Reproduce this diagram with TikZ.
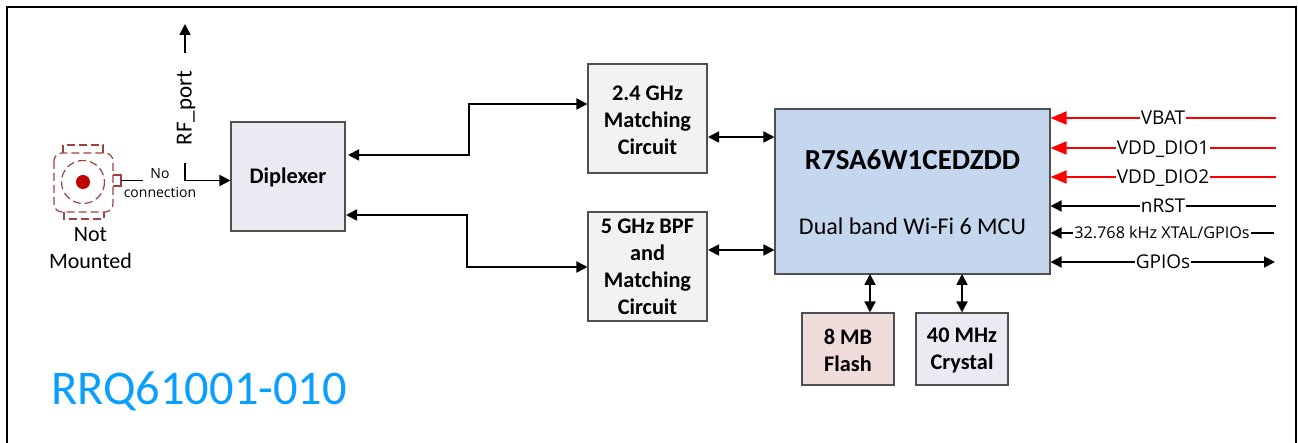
\documentclass[tikz,border=0pt]{standalone}
\usepackage{fontspec}
\setmainfont{Carlito}
\newfontfamily\labfont{Open Sans}
\usetikzlibrary{arrows.meta}
\definecolor{bordergray}{HTML}{505050}
\definecolor{mcublue}{HTML}{C5D7EE}
\definecolor{lilacfill}{HTML}{EBE9F1}
\definecolor{grayfill}{HTML}{F2F2F2}
\definecolor{pinkfill}{HTML}{F0DCDA}
\definecolor{titleblue}{HTML}{0A9FFF}
\definecolor{dashred}{HTML}{A04040}
\definecolor{dotred}{HTML}{C00000}
\definecolor{railred}{HTML}{FF0000}
\newcommand{\firstline}{\rule{0pt}{18pt}}
\tikzset{
  blockbox/.style={draw=bordergray,line width=1.1pt,inner sep=0pt,align=center,
    font=\fontsize{22.3}{27}\selectfont\bfseries},
  conn/.style={line width=1.8pt,black},
  tip/.style={-{Triangle[length=11pt,width=11pt]}},
  tiptwo/.style={{Triangle[length=11pt,width=11pt]}-{Triangle[length=11pt,width=11pt]}},
  redconn/.style={line width=1.8pt,railred},
  lab/.style={fill=white,inner sep=1pt,text height=13.5pt,text depth=0pt,font=\labfont\fontsize{19}{20}\selectfont},
  dashsym/.style={draw=dashred,line width=1.2pt,dash pattern=on 8pt off 4pt},
}
\begin{document}
\begin{tikzpicture}[x=1pt,y=-1pt]
\useasboundingbox (0,0) rectangle (1298,443);
% frame
\draw[line width=2pt,black] (7,443) -- (7,7) -- (1296,7) -- (1296,443);
% blocks
\node[blockbox,fill=lilacfill,minimum width=114pt,minimum height=109pt] (dip) at (288,176.5) {\firstline Diplexer};
\node[blockbox,fill=grayfill,minimum width=119pt,minimum height=109pt] (m24) at (647.5,118.5) {\firstline 2.4 GHz\\Matching\\Circuit};
\node[blockbox,fill=grayfill,minimum width=119pt,minimum height=109pt] (m5) at (647.5,266.5) {5 GHz BPF\\and\\Matching\\Circuit};
\node[blockbox,fill=mcublue,minimum width=275pt,minimum height=165pt] (mcu) at (912.5,191.5) {};
\node[blockbox,fill=pinkfill,minimum width=92pt,minimum height=72pt] (flash) at (848,349) {\firstline 8 MB\\Flash};
\node[blockbox,fill=lilacfill,minimum width=92pt,minimum height=72pt] (xtal) at (962,349) {\firstline 40 MHz\\Crystal};
\node[font=\fontsize{29}{27}\selectfont\bfseries,inner sep=0pt] (mcuname) at (912.5,160) {R7SA6W1CEDZDD};
\node[font=\fontsize{24}{27}\selectfont,inner sep=0pt] (mcudesc) at (912.5,226.5) {Dual band Wi-Fi 6 MCU};
% RF connector symbol
\draw[dashsym,rounded corners=8pt] (54,153) rectangle (113,212);
\draw[dashsym] (63,153) -- (63,145) -- (103,145) -- (103,153);
\draw[dashsym] (64,212) -- (64,219) -- (104,219) -- (104,212);
\draw[dashred,line width=1.2pt] (113,175) -- (121,175) -- (121,186) -- (113,186);
\draw[dashsym] (83,182) circle (21.5);
\fill[dotred] (83,182) circle (7);
\node[font=\fontsize{22}{27}\selectfont,align=center,inner sep=0pt] (notm) at (90.5,248) {Not\\Mounted};
% no connection
\coordinate (stubA) at (121,180.5);
\coordinate (stubB) at (143,180.5);
\draw[line width=1.1pt] (stubA) -- (stubB);
\node[font=\labfont\fontsize{14}{19}\selectfont,align=center,inner sep=0pt] (nocon) at (160,183.5) {No\\connection};
% RF port
\coordinate (rfa) at (185,163);
\coordinate (rfb) at (185,180.5);
\coordinate (rfc) at (185,53);
\coordinate (rfd) at (185,24);
\draw[conn,tip] (rfa) -- (rfb) -- (dip.west |- rfb);
\draw[conn,tip] (rfc) -- (rfd);
\node[font=\fontsize{23}{24}\selectfont,rotate=90,inner sep=0pt] (rfl) at (186,108) {RF\_port};
% diplexer to matching
\coordinate (upA) at (348,155);
\coordinate (upM) at (469,155);
\coordinate (upN) at (469,104);
\draw[conn,tiptwo] (upA) -- (upM) -- (upN) -- (m24.west |- upN);
\coordinate (loA) at (346,215);
\coordinate (loM) at (467,215);
\coordinate (loN) at (467,267);
\draw[conn,tiptwo] (loA) -- (loM) -- (loN) -- (m5.west |- loN);
% matching to MCU
\coordinate (a24) at (708,137);
\coordinate (a5) at (708,250);
\draw[conn,tiptwo] (a24) -- (mcu.west |- a24);
\draw[conn,tiptwo] (a5) -- (mcu.west |- a5);
% MCU to memory
\coordinate (fl) at (870,274);
\coordinate (cr) at (962,274);
\draw[conn,tiptwo] (fl) -- (fl |- flash.north);
\draw[conn,tiptwo] (cr) -- (cr |- xtal.north);
% right side signals
\node[lab] (vbat) at (1163,118) {VBAT};
\node[lab] (vd1) at (1163,148) {VDD\_DIO1};
\node[lab] (vd2) at (1163,177) {VDD\_DIO2};
\node[lab] (nrst) at (1163,206) {nRST};
\node[lab,text height=11.5pt,font=\labfont\fontsize{16.2}{18}\selectfont] (x32) at (1162,233) {32.768 kHz XTAL/GPIOs};
\node[lab] (gpio) at (1163,262) {GPIOs};
\coordinate (evbat) at (1276,118);
\coordinate (evd1) at (1276,148);
\coordinate (evd2) at (1276,177);
\coordinate (enrst) at (1276,206);
\coordinate (ex32) at (1274,233);
\coordinate (egpio) at (1275,262);
\tikzset{redtip/.style={-{Triangle[length=16pt,width=13pt]}}}
\draw[redconn] (evbat) -- (vbat);
\draw[redconn,redtip] (vbat) -- (mcu.east |- vbat);
\draw[redconn] (evd1) -- (vd1);
\draw[redconn,redtip] (vd1) -- (mcu.east |- vd1);
\draw[redconn] (evd2) -- (vd2);
\draw[redconn,redtip] (vd2) -- (mcu.east |- vd2);
\draw[conn] (enrst) -- (nrst);
\draw[conn,tip] (nrst) -- (mcu.east |- nrst);
\draw[conn] (ex32) -- (x32);
\draw[conn,tip] (x32) -- (mcu.east |- x32);
\draw[conn,tip] (gpio) -- (egpio);
\draw[conn,tip] (gpio) -- (mcu.east |- gpio);
% part number
\node[font=\fontsize{48.4}{50}\selectfont,text=titleblue,inner sep=0pt,anchor=west] (part) at (51,391) {RRQ61001-010};
\end{tikzpicture}
\end{document}
